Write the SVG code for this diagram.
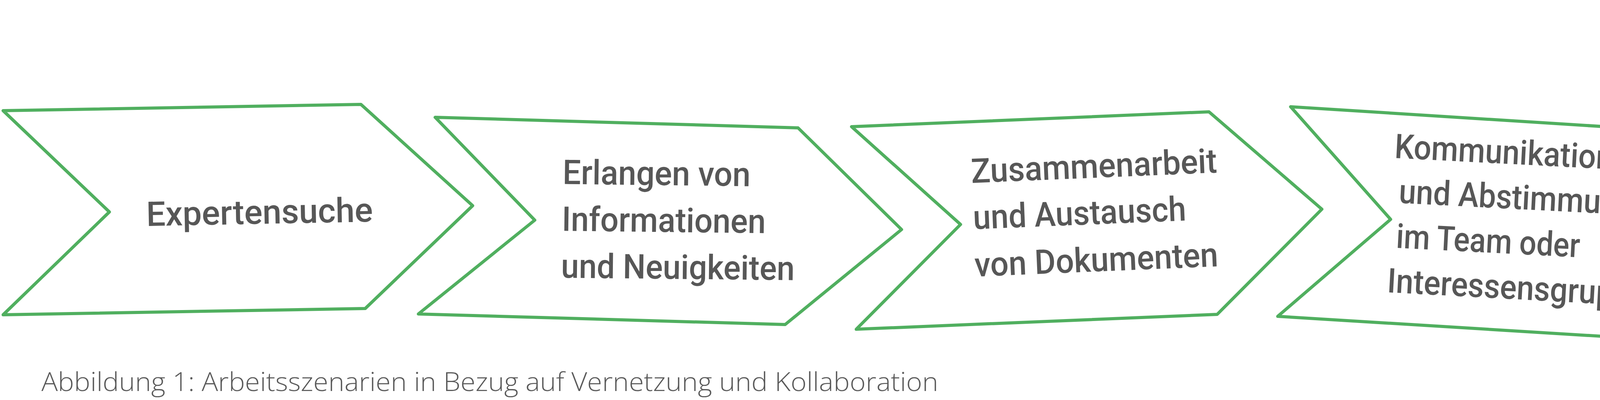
<svg xmlns="http://www.w3.org/2000/svg" width="5588" height="1023" viewBox="0 0 5588 1023">
  <style>
    .chev { fill: #ffffff; stroke: #50AF5F; stroke-width: 8; stroke-linejoin: round; }
    .lbl { font-family: Roboto, "Liberation Sans", Arial, sans-serif; font-weight: 500; font-size: 87px; fill: #575757; }
    .cap { font-family: "Open Sans", "Liberation Sans", Arial, sans-serif; font-weight: 300; font-size: 67px; fill: #5a5a5a; }
  </style>
  <rect x="0" y="0" width="5588" height="1023" fill="#ffffff"/>
  <g id="connectors"></g>
  <g id="node1">
    <polygon class="chev" points="8,283 924,267 1210,526 935,789 8,805 280,542"/>
    <text class="lbl" x="375" y="578" textLength="580" lengthAdjust="spacingAndGlyphs" transform="rotate(-1.1 375 578)">Expertensuche</text>
  </g>
  <g id="node2">
    <polygon class="chev" points="1114,300 2043,327 2308,587 2010,830 1071,803 1369,563"/>
    <text class="lbl" x="1440" y="470.5" textLength="481" lengthAdjust="spacingAndGlyphs" transform="rotate(0.68 1440 470.5)">Erlangen von</text>
    <text class="lbl" x="1438" y="590.3" textLength="522" lengthAdjust="spacingAndGlyphs" transform="rotate(0.65 1438 590.3)">Informationen</text>
    <text class="lbl" x="1436" y="710.2" textLength="598" lengthAdjust="spacingAndGlyphs" transform="rotate(0.6 1436 710.2)">und Neuigkeiten</text>
  </g>
  <g id="node3">
    <polygon class="chev" points="2180,324 3095,286 3384,535 3116,804 2192,842 2459,574"/>
    <text class="lbl" x="2487" y="467.9" textLength="630" lengthAdjust="spacingAndGlyphs" transform="rotate(-2.42 2487 467.9)">Zusammenarbeit</text>
    <text class="lbl" x="2492" y="586.2" textLength="546" lengthAdjust="spacingAndGlyphs" transform="rotate(-2.35 2492 586.2)">und Austausch</text>
    <text class="lbl" x="2496" y="707.6" textLength="624" lengthAdjust="spacingAndGlyphs" transform="rotate(-2.45 2496 707.6)">von Dokumenten</text>
  </g>
  <g id="node4">
    <polygon class="chev" points="3304,273 4220,331 4489,617 4198,866 3271,809 3560,561"/>
    <text class="lbl" x="3569" y="404" textLength="560" lengthAdjust="spacingAndGlyphs" transform="rotate(2.95 3569 404)">Kommunikation</text>
    <text class="lbl" x="3580" y="519" textLength="606" lengthAdjust="spacingAndGlyphs" transform="rotate(2.95 3580 519)">und Abstimmung</text>
    <text class="lbl" x="3573" y="633.7" textLength="471" lengthAdjust="spacingAndGlyphs" transform="rotate(2.97 3573 633.7)">im Team oder</text>
    <text class="lbl" x="3550" y="747.4" textLength="712" lengthAdjust="spacingAndGlyphs" transform="rotate(3.1 3550 747.4)">Interessensgruppen</text>
  </g>
  <g id="node5">
    <polygon class="chev" points="4384,309 5298,296 5581,552 5306,815 4378,829 4651,567"/>
    <text class="lbl" x="4768" y="600" textLength="556" lengthAdjust="spacingAndGlyphs" transform="rotate(-0.2 4768 600)">Wissenssuche</text>
  </g>
  <g id="caption">
    <text class="cap" x="106" y="1000" textLength="2296" lengthAdjust="spacingAndGlyphs">Abbildung 1: Arbeitsszenarien in Bezug auf Vernetzung und Kollaboration</text>
  </g>
</svg>
